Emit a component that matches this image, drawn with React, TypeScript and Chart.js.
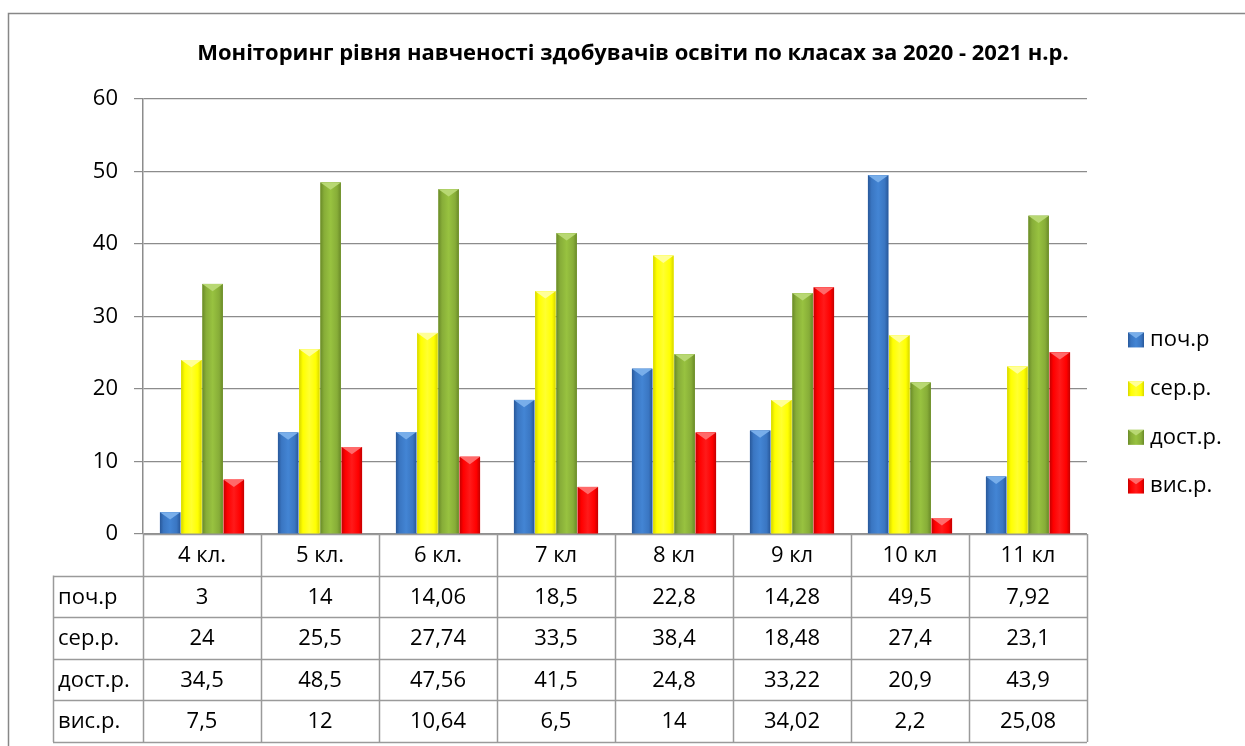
import React, { useEffect, useRef } from "react";
import { Chart, registerables } from "chart.js";

Chart.register(...registerables);

const titleText = "Моніторинг рівня навченості здобувачів освіти по класах за 2020 - 2021 н.р.";
const categories = ["4 кл.", "5 кл.", "6 кл.", "7 кл", "8 кл", "9 кл", "10 кл", "11 кл"];
const seriesNames = ["поч.р", "сер.р.", "дост.р.", "вис.р."];
const pochR = [3, 14, 14.06, 18.5, 22.8, 14.28, 49.5, 7.92];
const serR = [24, 25.5, 27.74, 33.5, 38.4, 18.48, 27.4, 23.1];
const dostR = [34.5, 48.5, 47.56, 41.5, 24.8, 33.22, 20.9, 43.9];
const visR = [7.5, 12, 10.64, 6.5, 14, 34.02, 2.2, 25.08];
const yMin = 0;
const yMax = 60;
const yStep = 10;

const seriesValues = [pochR, serR, dostR, visR];
const baseColors = ["#3A76C2", "#FFFF00", "#87AD38", "#FF0000"];
const edgeColors = ["#28589A", "#D6D600", "#6A8A28", "#C40000"];
const midColors = ["#4385D4", "#FFFF30", "#98C240", "#FF1A1A"];
const capColors = ["#78AEEA", "#FFFF99", "#B8D873", "#FF6A6A"];

const FONT = "'Open Sans', 'Noto Sans', 'DejaVu Sans', sans-serif";
const GRID = "#8c8c8c";
const TABLE_LINE = "#9a9a9a";

const fmt = (v: number) => String(v).replace(".", ",");

function drawBevelBar(ctx: CanvasRenderingContext2D, l: number, top: number, w: number, h: number, i: number) {
  if (h <= 0) return;
  const r = l + w;
  const g = ctx.createLinearGradient(l, 0, r, 0);
  g.addColorStop(0, edgeColors[i]);
  g.addColorStop(0.18, baseColors[i]);
  g.addColorStop(0.5, midColors[i]);
  g.addColorStop(0.82, baseColors[i]);
  g.addColorStop(1, edgeColors[i]);
  ctx.fillStyle = g;
  ctx.fillRect(l, top, w, h);
  const d = Math.min(w * 0.36, h / 2);
  ctx.fillStyle = capColors[i];
  ctx.beginPath();
  ctx.moveTo(l, top);
  ctx.lineTo(r, top);
  ctx.lineTo(l + w / 2, top + d);
  ctx.closePath();
  ctx.fill();
}

const bevelPlugin = {
  id: "bevelBars",
  afterDatasetsDraw(chart: any) {
    const ctx = chart.ctx as CanvasRenderingContext2D;
    ctx.save();
    chart.data.datasets.forEach((_ds: any, di: number) => {
      const meta = chart.getDatasetMeta(di);
      meta.data.forEach((el: any) => {
        const p = el.getProps(["x", "y", "base", "width"], true);
        drawBevelBar(ctx, p.x - p.width / 2, p.y, p.width, p.base - p.y, di);
      });
    });
    ctx.restore();
  },
};

const framePlugin = {
  id: "frame",
  beforeDraw(chart: any) {
    const ctx = chart.ctx as CanvasRenderingContext2D;
    ctx.save();
    ctx.fillStyle = "#ffffff";
    ctx.fillRect(0, 0, chart.width, chart.height);
    ctx.strokeStyle = "#878787";
    ctx.lineWidth = 1.5;
    ctx.strokeRect(8.5, 13.5, chart.width - 17, chart.height);
    ctx.fillStyle = "#000";
    ctx.font = `bold 22px ${FONT}`;
    ctx.textAlign = "center";
    ctx.textBaseline = "middle";
    ctx.fillText(titleText, 633, 54);
    ctx.restore();
  },
};

const tablePlugin = {
  id: "dataTable",
  afterDraw(chart: any) {
    const ctx = chart.ctx as CanvasRenderingContext2D;
    const area = chart.chartArea;
    const xs = chart.scales.x;
    const n = categories.length;
    const colW = (area.right - area.left) / n;
    const rowH = 41.6;
    const top = area.bottom;
    const bottom = top + rowH * 5;
    const labelLeft = 53;
    ctx.save();
    ctx.strokeStyle = TABLE_LINE;
    ctx.lineWidth = 1.5;
    ctx.beginPath();
    for (let i = 0; i <= n; i++) {
      const x = Math.round(area.left + i * colW) + 0.5;
      ctx.moveTo(x, top);
      ctx.lineTo(x, bottom);
    }
    ctx.moveTo(labelLeft + 0.5, top + rowH);
    ctx.lineTo(labelLeft + 0.5, bottom);
    ctx.moveTo(area.left, Math.round(top) + 0.5);
    ctx.lineTo(area.right, Math.round(top) + 0.5);
    for (let r = 1; r <= 5; r++) {
      const y = Math.round(top + r * rowH) + 0.5;
      ctx.moveTo(labelLeft, y);
      ctx.lineTo(area.right, y);
    }
    ctx.stroke();

    ctx.fillStyle = "#000";
    ctx.font = `22px ${FONT}`;
    ctx.textBaseline = "middle";
    ctx.textAlign = "center";
    categories.forEach((c, i) => {
      const cx = xs.getPixelForValue(i);
      ctx.fillText(c, cx, top + rowH / 2 + 1);
    });
    seriesValues.forEach((vals, si) => {
      const cy = top + rowH * (si + 1) + rowH / 2 + 1;
      ctx.textAlign = "left";
      ctx.fillText(seriesNames[si], labelLeft + 5, cy);
      ctx.textAlign = "center";
      vals.forEach((v, i) => {
        ctx.fillText(fmt(v), xs.getPixelForValue(i), cy);
      });
    });
    ctx.restore();
  },
};

const legendPlugin = {
  id: "sideLegend",
  afterDraw(chart: any) {
    const ctx = chart.ctx as CanvasRenderingContext2D;
    const area = chart.chartArea;
    const bx = area.right + 41;
    const spacing = 48.7;
    const centerY = 413;
    ctx.save();
    ctx.font = `22px ${FONT}`;
    ctx.textBaseline = "middle";
    ctx.textAlign = "left";
    chart.data.datasets.forEach((ds: any, i: number) => {
      const cy = centerY + (i - (chart.data.datasets.length - 1) / 2) * spacing;
      drawBevelBar(ctx, bx, cy - 7.5, 16, 15, i);
      ctx.fillStyle = "#000";
      ctx.fillText(ds.label, bx + 22, cy);
    });
    ctx.restore();
  },
};

export default function App() {
  const ref = useRef<HTMLCanvasElement | null>(null);
  useEffect(() => {
    if (!ref.current) return;
    const chart = new Chart(ref.current, {
      type: "bar",
      data: {
        labels: categories,
        datasets: seriesValues.map((vals, i) => ({
          label: seriesNames[i],
          data: vals,
          backgroundColor: baseColors[i],
          borderWidth: 0,
          categoryPercentage: 0.72,
          barPercentage: 0.96,
        })),
      },
      options: {
        animation: false,
        responsive: false,
        devicePixelRatio: 1,
        layout: { padding: { left: 0, right: 178, top: 99, bottom: 226 } },
        plugins: {
          legend: { display: false },
          tooltip: { enabled: false },
          title: { display: false },
        },
        scales: {
          x: { display: false },
          y: {
            min: yMin,
            max: yMax,
            afterFit: (s: any) => {
              s.width = 143;
            },
            ticks: {
              stepSize: yStep,
              color: "#000",
              padding: 16,
              font: { family: FONT, size: 22 },
            },
            grid: { color: GRID, lineWidth: 1.2, tickLength: 9, drawTicks: true },
            border: { display: true, color: GRID, width: 1.5 },
          },
        },
      },
      plugins: [framePlugin, bevelPlugin, tablePlugin, legendPlugin],
    });
    return () => chart.destroy();
  }, []);
  return (
    <div style={{ position: "fixed", left: 0, top: 0, width: 1245, height: 746, overflow: "hidden", background: "#fff" }}>
      <canvas ref={ref} width={1265} height={760} style={{ width: 1265, height: 760, display: "block" }} />
    </div>
  );
}
